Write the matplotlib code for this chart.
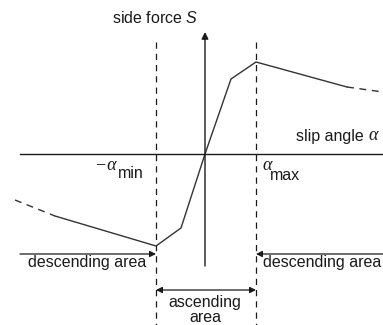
"""
Side force S over slip angle alpha: ascending and descending areas.
"""
import matplotlib.pyplot as plt

plt.rcParams['font.family'] = ['Liberation Sans', 'DejaVu Sans']
plt.rcParams['mathtext.fontset'] = 'custom'
plt.rcParams['mathtext.rm'] = 'Liberation Sans'
plt.rcParams['mathtext.it'] = 'Liberation Sans:italic'

# slip angle / side force (alpha_max ~ 1)
alpha_min = -0.98
alpha_max = 1.02
slip_solid = [-3.0, -0.98, -0.48, 0.0, 0.52, 1.02, 2.84]
force_solid = [-1.24, -1.84, -1.48, 0.0, 1.5, 1.84, 1.34]
slip_left_dash = [-3.8, -3.0]
force_left_dash = [-0.92, -1.24]
slip_right_dash = [2.84, 3.56]
force_right_dash = [1.34, 1.24]

INK = '#1a1a1a'
CURVE = '#333333'

fig = plt.figure(figsize=(3.83, 3.25), dpi=100)
ax = fig.add_axes([0, 0, 1, 1])
ax.set_xlim(-4.1, 3.56)
ax.set_ylim(-3.42, 3.08)
ax.axis('off')

# axes
ax.plot([-3.7, 3.56], [0, 0], color=INK, lw=1.0)
ax.annotate('', xy=(0, 2.44), xytext=(0, -2.24),
            arrowprops=dict(arrowstyle='-|>', color=INK, lw=1.0,
                            mutation_scale=10, shrinkA=0, shrinkB=0))

# limits
for a in (alpha_min, alpha_max):
    ax.plot([a, a], [2.24, -3.42], color=INK, lw=0.9, ls=(0, (5, 4)))

# curve
ax.plot(slip_solid, force_solid, color=CURVE, lw=1.0)
ax.plot(slip_left_dash, force_left_dash, color=CURVE, lw=1.0, ls=(0, (5, 4)))
ax.plot(slip_right_dash, force_right_dash, color=CURVE, lw=1.0, ls=(0, (5, 4)))

# area arrows
arr = dict(arrowstyle='-|>', color=INK, lw=0.9, mutation_scale=9,
           shrinkA=0, shrinkB=0)
ax.annotate('', xy=(alpha_min, -2.0), xytext=(-3.7, -2.0), arrowprops=arr)
ax.annotate('', xy=(alpha_max, -2.0), xytext=(3.56, -2.0), arrowprops=arr)
ax.annotate('', xy=(alpha_min, -2.72), xytext=(alpha_max, -2.72),
            arrowprops=dict(arr, arrowstyle='<|-|>'))

fs = 11.5
greek = dict(family='Liberation Serif', style='italic', fontsize=13, color=INK)
ax.text(-1.0, 2.72, r'side force $\mathit{S}$', fontsize=fs, color=INK,
        ha='center', va='center')
ax.text(1.82, 0.36, 'slip angle', fontsize=fs, color=INK,
        ha='left', va='center')
ax.text(3.27, 0.38, '\u03b1', ha='left', va='center', **greek)

ax.text(-1.76, -0.22, '\u2212\u03b1', ha='right', va='center', **greek)
ax.text(-1.74, -0.4, 'min', fontsize=fs, color=INK, ha='left', va='center')
ax.text(1.14, -0.24, '\u03b1', ha='left', va='center', **greek)
ax.text(1.3, -0.42, 'max', fontsize=fs, color=INK, ha='left', va='center')

ax.text(-3.54, -2.18, 'descending area', fontsize=fs, color=INK,
        ha='left', va='center')
ax.text(1.16, -2.18, 'descending area', fontsize=fs, color=INK,
        ha='left', va='center')
ax.text(0.0, -2.96, 'ascending', fontsize=fs, color=INK,
        ha='center', va='center')
ax.text(0.0, -3.26, 'area', fontsize=fs, color=INK,
        ha='center', va='center')

fig.savefig('out.png', dpi=100, facecolor='white')
